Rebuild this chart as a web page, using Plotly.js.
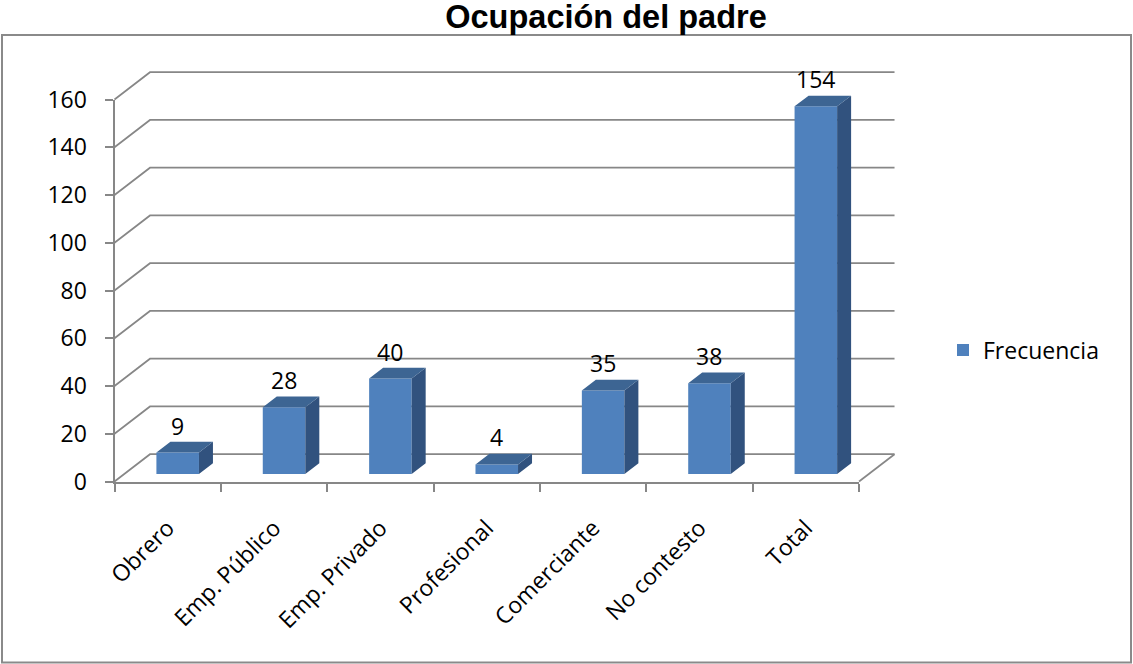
<!DOCTYPE html>
<html><head><meta charset="utf-8">
<script src="https://cdn.plot.ly/plotly-3.0.1.min.js"></script>
<style>html,body{margin:0;padding:0;background:#fff}#chart{width:1133px;height:664px}</style>
</head><body><div id="chart"></div>
<script>
// ---- data ----
const chartTitle = 'Ocupación del padre';
const seriesName = 'Frecuencia';
const categories = ['Obrero', 'Emp. Público', 'Emp. Privado', 'Profesional', 'Comerciante', 'No contesto', 'Total'];
const frecuencia = [9, 28, 40, 4, 35, 38, 154];
const yTicks = [0, 20, 40, 60, 80, 100, 120, 140, 160];

// ---- geometry / style ----
const W = 1133, H = 664;
const PX0 = 114.5, CW = 106.36, PY0 = 481.5, VU = 2.3875;
const WALL_DX = 35.5, WALL_DY = 27.3;
const BAR_SX = 10, BAR_SY = 7.5;
const BAR_DX = 14, BAR_DY = 10.7;
const BAR_W = 0.4;
const FONT = 'Open Sans, Noto Sans, sans-serif';
const GRID = '#878787';
const n = categories.length;
const yMax = yTicks[yTicks.length - 1];
const idx = categories.map((c, i) => i);

function xdom(r, sx) { return [(PX0 + (r[0] + 0.5) * CW + sx) / W, (PX0 + (r[1] + 0.5) * CW + sx) / W]; }
function ydom(r, sy) { return [(H - (PY0 - r[0] * VU - sy)) / H, (H - (PY0 - r[1] * VU - sy)) / H]; }

const wdx = WALL_DX / CW, wdy = WALL_DY / VU;
const wallX = [-0.6, n - 0.5 + wdx + 0.1], wallY = [-1, yMax + wdy + 1];
const gx = [], gy = [];
yTicks.forEach(v => { gx.push(-0.5, -0.5 + wdx, n - 0.5 + wdx, null); gy.push(v, v + wdy, v + wdy, null); });
gx.push(n - 0.5, n - 0.5 + wdx); gy.push(0, wdy);

const bdx = BAR_DX / CW, bdy = BAR_DY / VU, hw = BAR_W / 2;
const topX = [], topY = [], sideX = [], sideY = [];
frecuencia.forEach((v, i) => {
  topX.push(i - hw, i + hw, i + hw + bdx, i - hw + bdx, i - hw, null);
  topY.push(v, v, v + bdy, v + bdy, v, null);
  sideX.push(i + hw, i + hw, i + hw + bdx, i + hw + bdx, i + hw, null);
  sideY.push(0, v, v + bdy, bdy, 0, null);
});

const traces = [
  { type: 'scatter', mode: 'lines', x: gx, y: gy, xaxis: 'x', yaxis: 'y',
    line: { color: GRID, width: 1.7 }, showlegend: false, hoverinfo: 'skip' },
  { type: 'scatter', mode: 'none', x: categories, y: frecuencia, xaxis: 'x2', yaxis: 'y2',
    showlegend: false, hoverinfo: 'skip' },
  { type: 'bar', name: seriesName, x: idx, y: frecuencia, width: BAR_W, xaxis: 'x3', yaxis: 'y3',
    marker: { color: '#4F81BD', line: { width: 0 } }, showlegend: true, hoverinfo: 'skip' },
  { type: 'scatter', mode: 'lines', x: sideX, y: sideY, xaxis: 'x3', yaxis: 'y3', fill: 'toself',
    fillcolor: '#31527e', line: { width: 0, color: '#31527e' }, showlegend: false, hoverinfo: 'skip' },
  { type: 'scatter', mode: 'lines', x: topX, y: topY, xaxis: 'x3', yaxis: 'y3', fill: 'toself',
    fillcolor: '#3d6593', line: { width: 0, color: '#3d6593' }, showlegend: false, hoverinfo: 'skip' }
];

const annotations = frecuencia.map((v, i) => ({
  xref: 'x3', yref: 'y3', x: i, y: v, yshift: 27, text: String(v), showarrow: false,
  xanchor: 'center', yanchor: 'middle', font: { family: FONT, size: 23, color: '#000' }
}));

const hidden = { visible: false, showgrid: false, zeroline: false, fixedrange: true };

const layout = {
  width: W, height: H,
  margin: { l: 0, r: 0, t: 0, b: 0 },
  paper_bgcolor: '#fff', plot_bgcolor: 'rgba(0,0,0,0)',
  title: { text: chartTitle, font: { family: 'Liberation Sans, Arial, sans-serif', size: 32.5, color: '#000', weight: 'bold' },
    x: 606 / W, xanchor: 'center', xref: 'paper', y: 1 - 17 / H, yanchor: 'middle', yref: 'paper' },
  xaxis: Object.assign({}, hidden, { domain: xdom(wallX, 0), range: wallX, anchor: 'y' }),
  yaxis: Object.assign({}, hidden, { domain: ydom(wallY, 0), range: wallY, anchor: 'x' }),
  xaxis2: { domain: xdom([-0.5, n - 0.5], 0), type: 'category', categoryorder: 'array', categoryarray: categories,
    range: [-0.5, n - 0.5], anchor: 'y2', showgrid: false, zeroline: false, showline: true, linecolor: GRID, linewidth: 2,
    ticks: 'outside', tickson: 'boundaries', ticklen: 8, tickwidth: 2, tickcolor: GRID, tickangle: -45,
    tickfont: { family: FONT, size: 23, color: '#000' }, ticklabelstandoff: 22, fixedrange: true },
  yaxis2: { domain: ydom([0, yMax], 0), range: [0, yMax], anchor: 'x2', tickvals: yTicks, ticktext: yTicks.map(String),
    showgrid: false, zeroline: false, showline: true, linecolor: GRID, linewidth: 2,
    ticks: 'outside', ticklen: 8, tickwidth: 2, tickcolor: GRID,
    tickfont: { family: FONT, size: 23, color: '#000' }, ticklabelstandoff: 13, fixedrange: true },
  xaxis3: Object.assign({}, hidden, { domain: xdom([-0.5, n - 0.5], BAR_SX), range: [-0.5, n - 0.5], anchor: 'y3' }),
  yaxis3: Object.assign({}, hidden, { domain: ydom([0, yMax], BAR_SY), range: [0, yMax], anchor: 'x3' }),
  showlegend: true,
  legend: { x: 943 / W, xanchor: 'left', y: 1 - 350 / H, yanchor: 'middle', bgcolor: 'rgba(0,0,0,0)',
    font: { family: FONT, size: 23, color: '#000' } },
  annotations: annotations,
  shapes: [{ type: 'rect', xref: 'paper', yref: 'paper', x0: 2 / W, x1: 1131 / W, y0: 1.5 / H, y1: 1 - 35 / H,
    line: { color: '#8a8a8a', width: 2 }, fillcolor: 'rgba(0,0,0,0)' }]
};

Plotly.newPlot('chart', traces, layout, { displayModeBar: false, staticPlot: true });
</script>
</body></html>
